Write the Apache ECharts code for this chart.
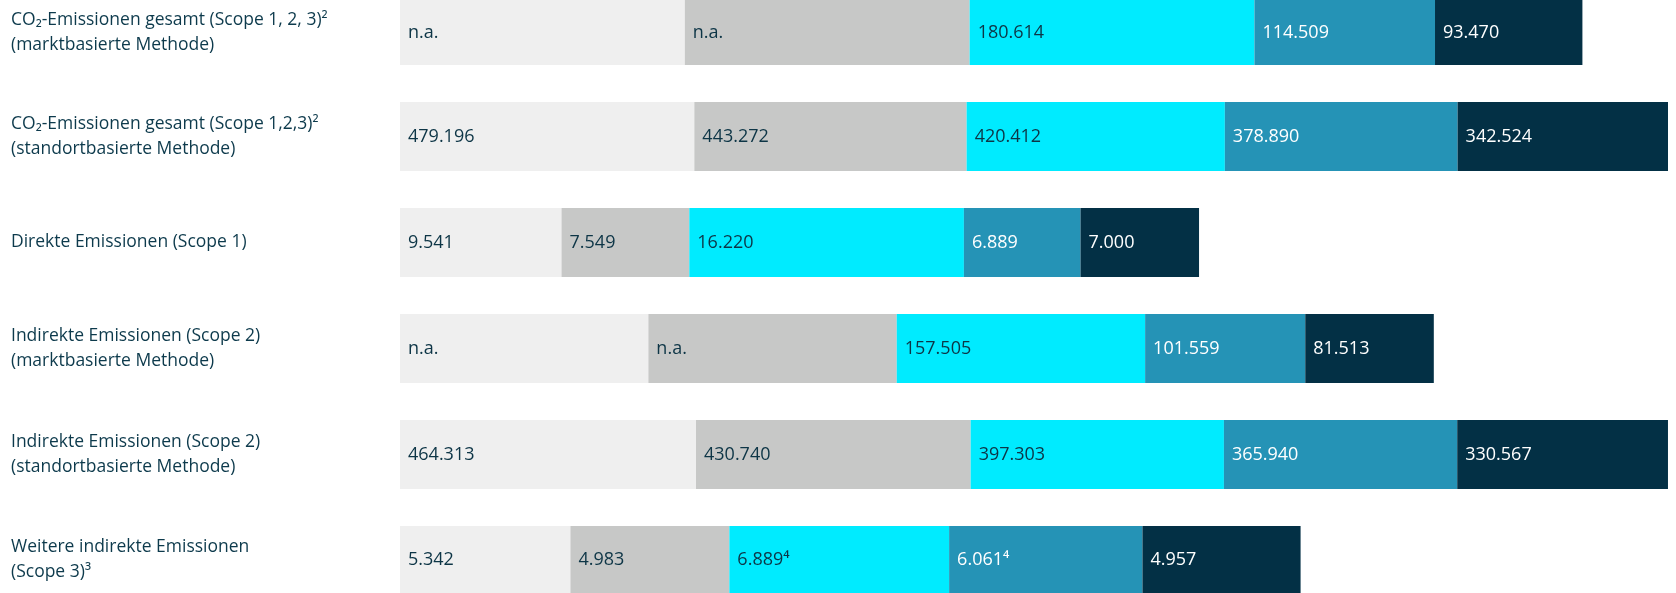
<!DOCTYPE html>
<html>
<head>
<meta charset="utf-8">
<script src="https://cdn.jsdelivr.net/npm/echarts@6/dist/echarts.min.js"></script>
<style>
    html, body { margin: 0; padding: 0; background: #ffffff; }
    #chart { width: 1676px; height: 593px; }
</style>
</head>
<body>
<div id="chart"></div>
<script>
// Zeilen (Kategorien)
var categories = [
    'CO₂-Emissionen gesamt (Scope 1, 2, 3)²\n(marktbasierte Methode)',
    'CO₂-Emissionen gesamt (Scope 1,2,3)²\n(standortbasierte Methode)',
    'Direkte Emissionen (Scope 1)',
    'Indirekte Emissionen (Scope 2)\n(marktbasierte Methode)',
    'Indirekte Emissionen (Scope 2)\n(standortbasierte Methode)',
    'Weitere indirekte Emissionen\n(Scope 3)³'
];

// Werte je Zeile, fünf Jahre (null = n.a.)
var rowMarktGesamt   = [null, null, 180614, 114509, 93470];
var rowStandGesamt   = [479196, 443272, 420412, 378890, 342524];
var rowScope1        = [9541, 7549, 16220, 6889, 7000];
var rowScope2Markt   = [null, null, 157505, 101559, 81513];
var rowScope2Stand   = [464313, 430740, 397303, 365940, 330567];
var rowScope3        = [5342, 4983, 6889, 6061, 4957];

// Fußnoten an einzelnen Werten
var notesScope3 = ['', '', '⁴', '⁴', ''];

// Achsenmaximum je Zeile (jede Zeile hat ihren eigenen Maßstab)
var rowAxisMax = [804100, 2064300, 74900, 804100, 1988900, 39750];

var rows = [rowMarktGesamt, rowStandGesamt, rowScope1, rowScope2Markt, rowScope2Stand, rowScope3];
var rowNotes = [null, null, null, null, null, notesScope3];

var segColors = ['#efefef', '#c7c8c7', '#00ebff', '#2593b6', '#033045'];
var textColors = ['#0d3546', '#0d3546', '#0d3546', '#ffffff', '#ffffff'];

window.onload = function () {
    var chart = echarts.init(document.getElementById('chart'));

    var grids = [], xAxes = [], yAxes = [], series = [];

    for (var r = 0; r < rows.length; r++) {
        var vals = rows[r];
        // n.a.-Felder bekommen die Breite des ersten vorhandenen Wertes
        var naSpan = vals.filter(function (v) { return v !== null; })[0];

        grids.push({ left: 400, right: 8, top: -4 + r * 106, height: 69 });
        xAxes.push({
            gridIndex: r, type: 'value', min: 0, max: rowAxisMax[r], show: false
        });
        yAxes.push({
            gridIndex: r, type: 'category', data: [categories[r]],
            axisLine: { show: false }, axisTick: { show: false },
            axisLabel: {
                align: 'left', margin: 389,
                fontFamily: 'Open Sans', fontSize: 17.5, lineHeight: 25,
                color: '#0d3a4c'
            }
        });

        for (var k = 0; k < vals.length; k++) {
            var v = vals[k];
            var text = v === null ? 'n.a.' : v.toLocaleString('de-DE');
            if (rowNotes[r]) text += rowNotes[r][k];
            series.push({
                type: 'bar', stack: 'row' + r,
                xAxisIndex: r, yAxisIndex: r,
                barWidth: '100%',
                silent: true,
                itemStyle: { color: segColors[k] },
                label: {
                    show: true, position: 'insideLeft', distance: 8,
                    formatter: text,
                    fontFamily: 'Open Sans', fontSize: 18,
                    color: textColors[k]
                },
                data: [v === null ? naSpan : v]
            });
        }
    }

    var option = {
        animation: false,
        grid: grids,
        xAxis: xAxes,
        yAxis: yAxes,
        series: series
    };

    chart.setOption(option);
};
</script>
</body>
</html>
